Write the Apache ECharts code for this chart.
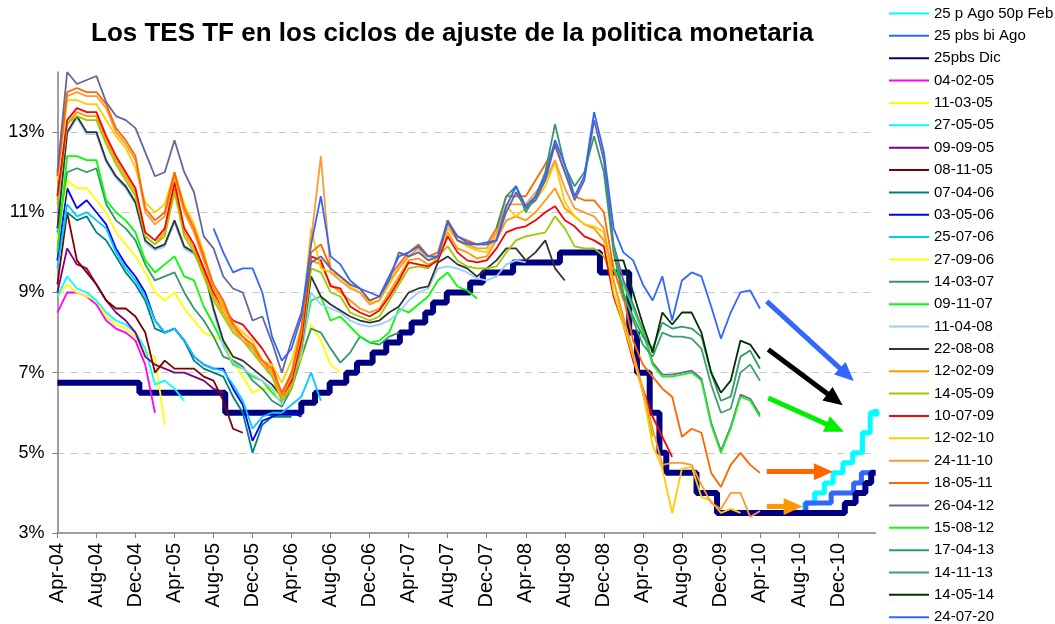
<!DOCTYPE html>
<html>
<head>
<meta charset="utf-8">
<script src="https://cdn.jsdelivr.net/npm/echarts@6/dist/echarts.min.js"></script>
<style>
  html, body { margin: 0; padding: 0; background: #fff; }
  #chart { width: 1055px; height: 624px; }
</style>
</head>
<body>
<div id="chart"></div>
<script>
// x position = months counted from Apr-04 (0 = Apr-04)
const tickLabels = ['Apr-04', 'Aug-04', 'Dec-04', 'Apr-05', 'Aug-05', 'Dec-05', 'Apr-06', 'Aug-06',
  'Dec-06', 'Apr-07', 'Aug-07', 'Dec-07', 'Apr-08', 'Aug-08', 'Dec-08', 'Apr-09', 'Aug-09',
  'Dec-09', 'Apr-10', 'Aug-10', 'Dec-10'];

// policy rate, with the three paths after Aug-10 (month of change, rate)
const dicMonths = [0, 8.4, 17.2, 25.0, 26.4, 27.9, 29.6, 30.7, 32.3, 33.7, 35.1, 36.3, 37.7, 38.5, 39.9,
  42.3, 43.6, 46.7, 51.5, 55.6, 58.6, 59.4, 60.7, 61.7, 62.4, 65.5, 67.6, 80.7, 81.8, 82.8, 83.4, 83.84];
const dicRates = [6.75, 6.5, 6.0, 6.25, 6.5, 6.75, 7.0, 7.25, 7.5, 7.75, 8.0, 8.25, 8.5, 8.75, 9.0,
  9.25, 9.5, 9.75, 10.0, 9.5, 8.0, 7.0, 6.0, 5.0, 4.5, 4.0, 3.5, 3.75, 4.0, 4.25, 4.5, 4.5];
const biAgoMonths = [76.0, 76.7, 79.3, 81.6, 82.4, 83.84];
const biAgoRates = [3.5, 3.75, 4.0, 4.25, 4.5, 4.5];
const agoFebMonths = [76.0, 76.6, 77.6, 78.6, 79.5, 80.5, 81.5, 82.5, 83.3, 83.84];
const agoFebRates = [3.5, 3.75, 4.0, 4.25, 4.5, 4.75, 5.0, 5.5, 6.0, 6.0];

// TES TF yields by month (%), first value at the month given in bondStart
const tes040205 = [8.5, 9.0, 9.0, 8.9, 8.7, 8.3, 8.1, 8.0, 7.8, 7.2, 6.0];
const tes110305 = [8.9, 9.2, 9.0, 8.9, 8.8, 8.4, 8.2, 8.1, 7.9, 7.5, 7.4, 5.7];
const tes270505 = [8.9, 9.4, 9.1, 9.0, 8.8, 8.5, 8.3, 8.2, 8.0, 7.6, 6.7, 6.8, 6.6, 6.3];
const tes090905 = [9.0, 10.1, 9.7, 9.6, 9.2, 8.8, 8.5, 8.3, 8.0, 7.4, 7.2, 7.1, 7.0, 7.0, 6.9, 6.8, 6.6, 6.5];
const tes081105 = [9.2, 11.0, 9.8, 9.5, 9.2, 8.8, 8.6, 8.6, 8.4, 8.0, 7.0, 7.3, 7.1, 7.1, 7.1, 6.9, 6.8, 6.3, 5.6, 5.5];
const tes070406 = [9.8, 11.0, 10.8, 10.9, 10.5, 10.3, 9.9, 9.5, 9.2, 8.8, 8.1, 8.0, 8.1, 7.8, 7.3, 7.1, 7.0, 6.9,
  6.4, 6.0, 5.0, 5.7, 5.9, 5.9, 5.9];
const tes030506 = [9.8, 11.6, 11.1, 11.3, 11.0, 10.7, 10.1, 9.7, 9.4, 9.0, 8.3, 8.0, 8.1, 7.8, 7.4, 7.2, 7.1, 7.1,
  6.6, 6.2, 5.3, 5.8, 5.9, 6.0, 6.0, 5.9];
const tes250706 = [9.6, 11.2, 10.9, 11.0, 10.8, 10.6, 10.0, 9.6, 9.3, 8.9, 8.3, 8.0, 8.1, 7.8, 7.4, 7.2, 7.1, 7.05,
  6.7, 6.3, 5.6, 5.9, 6.0, 6.0, 6.2, 6.4, 7.0, 6.3];
const tes270906 = [10.3, 11.8, 11.6, 11.6, 11.3, 11.0, 10.5, 10.2, 9.9, 9.5, 9.0, 8.8, 9.0, 8.6, 8.3, 8.0, 7.9, 7.8,
  7.3, 6.9, 6.5, 6.6, 6.6, 6.4, 6.8, 7.3, 8.2, 7.8, 7.2, 7.0];
const tes140307 = [10.5, 12.0, 12.1, 12.0, 12.1, 11.2, 10.8, 10.6, 10.3, 9.7, 9.3, 9.4, 9.5, 9.0, 8.6, 8.3, 7.9, 7.4,
  7.3, 7.15, 6.8, 6.6, 6.3, 6.15, 6.6, 7.4, 8.1, 8.0, 7.6, 7.25, 7.5, 7.9, 7.75, 7.7, 7.9, 8.0];
const tes091107 = [10.0, 12.4, 12.4, 12.3, 12.3, 11.3, 11.0, 10.8, 10.5, 9.8, 9.5, 9.7, 9.9, 9.4, 9.3, 8.65, 8.2, 7.7,
  7.2, 7.1, 6.9, 6.8, 6.5, 6.25, 6.7, 7.6, 8.8, 8.9, 8.3, 8.4, 8.15, 7.9, 7.75, 7.8, 8.0, 8.6, 8.5, 8.7,
  8.9, 9.3, 9.5, 9.15, 9.05, 8.85];
const tes110408 = [10.55, 12.95, 13.35, 12.95, 12.95, 12.25, 11.85, 11.6, 11.2, 10.25, 10.05, 10.15, 10.75, 10.1,
  9.95, 9.55, 8.55, 7.65, 7.25, 7.1, 6.95, 6.8, 6.6, 6.2, 6.8, 7.4, 9.0, 8.7, 8.6, 8.5, 8.3, 8.2, 8.15, 8.2,
  8.3, 8.5, 8.8, 9.0, 9.1, 9.6, 9.65, 9.6, 9.5, 9.35, 9.3, 9.4, 9.7, 9.8, 9.75];
const tes220808 = [10.6, 13.0, 13.4, 13.0, 13.0, 12.3, 11.9, 11.65, 11.25, 10.3, 10.1, 10.2, 10.8, 10.15, 10.0, 9.6,
  8.6, 7.8, 7.4, 7.3, 7.1, 6.9, 6.7, 6.4, 7.0, 7.6, 9.4, 8.9, 8.7, 8.55, 8.4, 8.3, 8.25, 8.3, 8.5, 8.65,
  9.0, 9.1, 9.15, 9.75, 9.9, 9.7, 9.6, 9.4, 9.6, 9.8, 10.1, 10.1, 9.8, 10.0, 10.3, 9.6, 9.3];
const tes120209 = [11.3, 13.2, 13.5, 13.4, 13.4, 12.8, 12.3, 11.9, 11.5, 10.4, 10.2, 10.5, 11.6, 10.5, 10.1, 9.5, 8.9,
  8.5, 8.1, 7.9, 7.6, 7.3, 7.0, 6.3, 6.7, 7.8, 9.8, 9.7, 9.2, 9.0, 8.8, 8.6, 8.5, 8.6, 9.0, 9.4, 9.8, 9.85,
  9.7, 9.8, 10.5, 10.1, 10.0, 9.85, 9.9, 10.3, 10.8, 10.9, 10.8, 11.0, 11.3, 11.6, 11.1, 10.9, 10.7, 10.6,
  10.3, 9.6, 8.8];
const tes140509 = [11.2, 13.2, 13.4, 13.3, 13.3, 12.7, 12.2, 11.8, 11.4, 10.4, 10.2, 10.4, 11.5, 10.4, 10.0, 9.4, 8.8,
  8.4, 8.0, 7.8, 7.5, 7.2, 6.9, 6.3, 6.6, 7.6, 9.6, 9.5, 9.0, 8.9, 8.5, 8.4, 8.3, 8.4, 8.8, 9.2, 9.6, 9.65,
  9.6, 9.9, 10.15, 9.8, 9.65, 9.6, 9.6, 9.65, 10.0, 10.3, 10.4, 10.45, 10.5, 10.9, 10.6, 10.15, 10.1, 10.1,
  9.9, 9.3, 8.3, 7.4, 6.5, 5.4];
const tes100709 = [11.4, 13.3, 13.6, 13.5, 13.5, 12.9, 12.4, 12.0, 11.6, 10.5, 10.3, 10.6, 11.75, 10.6, 10.2, 9.6,
  9.0, 8.6, 8.3, 8.2, 7.9, 7.6, 7.2, 6.4, 6.8, 7.8, 9.9, 9.8, 9.15, 9.1, 8.65, 8.5, 8.4, 8.55, 8.9, 9.3,
  9.75, 9.7, 9.65, 9.8, 10.4, 10.0, 9.8, 9.75, 9.8, 10.1, 10.5, 10.6, 10.65, 10.8, 11.0, 11.15, 10.8, 10.65,
  10.4, 10.3, 10.15, 8.9, 8.2, 7.3, 6.6, 5.9, 5.4, 4.9];
const tes120210 = [11.8, 13.8, 13.8, 13.7, 13.7, 13.3, 12.9, 12.6, 12.1, 11.25, 11.0, 11.2, 12.0, 11.2, 10.7, 10.0,
  9.1, 8.6, 8.25, 8.0, 7.8, 7.3, 7.2, 6.75, 7.3, 8.15, 10.6, 9.6, 9.5, 9.4, 9.15, 9.0, 8.75, 8.8, 9.2, 9.6,
  9.9, 10.1, 9.8, 9.9, 10.6, 10.3, 10.15, 10.05, 10.0, 10.4, 11.15, 10.9, 11.1, 11.3, 11.65, 12.25, 11.25,
  10.9, 10.7, 10.65, 10.5, 9.0, 8.2, 7.4, 6.5, 5.2, 4.6, 3.5, 4.6, 4.65, 3.9, 3.8, 3.5, 3.6, 3.5];
const tes241110 = [11.9, 13.9, 14.0, 13.9, 13.9, 13.6, 13.0, 12.7, 12.3, 11.0, 10.7, 10.9, 11.9, 11.0, 10.5, 9.8, 9.1,
  8.7, 8.1, 7.8, 7.6, 7.2, 7.0, 6.4, 6.9, 8.0, 10.3, 12.4, 9.5, 9.3, 9.1, 9.0, 8.7, 8.8, 9.3, 9.6, 9.9,
  10.1, 9.8, 9.9, 10.7, 10.3, 10.2, 10.1, 10.1, 10.5, 11.2, 11.2, 11.2, 11.5, 11.8, 12.3, 11.6, 11.1, 11.0,
  10.9, 10.6, 9.3, 8.4, 7.5, 6.6, 5.6, 4.7, 4.75, 4.75, 4.7, 4.2, 3.75, 3.6, 4.0, 4.0, 3.4, 3.55];
const tes180511 = [11.9, 14.0, 14.1, 14.0, 14.0, 13.7, 13.1, 12.8, 12.4, 11.1, 10.8, 11.0, 12.0, 11.1, 10.6, 9.9, 9.2,
  8.8, 8.2, 7.9, 7.7, 7.3, 7.1, 6.5, 7.0, 8.1, 10.0, 10.2, 9.6, 9.4, 9.2, 9.1, 8.8, 8.9, 9.4, 9.7, 10.0,
  10.2, 9.9, 10.0, 10.8, 10.4, 10.3, 10.2, 10.2, 10.6, 11.4, 11.4, 11.4, 11.8, 12.2, 12.65, 12.0, 11.4, 11.3,
  11.3, 11.0, 9.6, 8.9, 7.8, 7.2, 6.9, 6.6, 6.4, 5.4, 5.6, 5.5, 4.5, 4.15, 4.7, 5.0, 4.7, 4.5];
const tes260412 = [12.0, 14.5, 14.2, 14.3, 14.4, 13.75, 13.4, 13.3, 13.1, 12.5, 11.9, 12.0, 12.8, 12.0, 11.5, 10.4,
  10.1, 9.4, 9.1, 9.0, 8.3, 8.4, 7.75, 7.0, 7.8, 8.5, 9.75, 9.9, 9.6, 9.4, 9.2, 9.1, 8.8, 8.9, 9.3, 10.0,
  9.9, 10.0, 9.8, 9.9, 10.8, 10.3, 10.2, 10.2, 10.2, 10.3, 11.0, 11.5, 11.1, 11.3, 11.8, 12.7, 12.0, 11.3,
  11.8, 13.3, 12.3, 10.2, 9.3, 8.7, 8.05, 7.25, 6.95, 6.95, 7.0, 7.05, 6.85, 5.75, 5.05, 5.65, 6.45, 6.35, 5.95];
const tes150812 = [9.6, 9.2, 8.6, 8.0, 7.2, 6.9, 6.9, 6.95, 7.0, 6.8, 5.7, 5.0, 5.6, 6.4, 6.3, 5.9];
const tes170413 = [10.6, 11.4, 11.65, 11.0, 11.4, 12.0, 13.2, 12.15, 11.65, 12.0, 12.9, 12.0, 10.0, 8.9, 8.4, 7.9,
  7.6, 8.25, 8.1, 8.15, 8.1, 7.9, 7.0, 6.3, 6.4, 7.4, 7.55, 7.1];
const tes141113 = [10.2, 9.0, 8.3, 7.7, 7.4, 8.0, 7.9, 7.9, 7.85, 7.6, 6.7, 6.0, 6.1, 7.0, 7.2, 6.8];
const tes140514 = [9.8, 9.8, 9.0, 8.2, 7.5, 8.5, 8.2, 8.5, 8.5, 8.0, 7.0, 6.5, 6.8, 7.8, 7.7, 7.35];
const tes240720 = [10.6, 10.0, 9.5, 9.6, 9.6, 9.0, 7.9, 7.3, 7.6, 8.4, 10.2, 11.4, 9.9, 9.7, 9.3, 9.1, 9.0, 8.9, 9.4,
  9.9, 10.0, 10.15, 9.9, 9.9, 10.75, 10.4, 10.25, 10.2, 10.25, 10.3, 11.15, 11.65, 11.15, 11.4, 11.9, 12.8,
  12.2, 11.4, 11.9, 13.5, 12.5, 10.6, 10.0, 9.8, 9.2, 8.8, 9.4, 8.3, 9.3, 9.5, 9.4, 8.65, 7.85, 8.5, 9.0,
  9.05, 8.6];

const bondNames = ['04-02-05', '11-03-05', '27-05-05', '09-09-05', '08-11-05', '07-04-06', '03-05-06', '25-07-06',
  '27-09-06', '14-03-07', '09-11-07', '11-04-08', '22-08-08', '12-02-09', '14-05-09', '10-07-09', '12-02-10',
  '24-11-10', '18-05-11', '26-04-12', '15-08-12', '17-04-13', '14-11-13', '14-05-14', '24-07-20'];
const bondStart = [0, 0, 0, 0, 0, 0, 0, 0, 0, 0, 0, 0, 0, 0, 0, 0, 0, 0, 0, 0, 57, 45, 57, 57, 16];
const bondValues = [tes040205, tes110305, tes270505, tes090905, tes081105, tes070406, tes030506, tes250706,
  tes270906, tes140307, tes091107, tes110408, tes220808, tes120209, tes140509, tes100709, tes120210,
  tes241110, tes180511, tes260412, tes150812, tes170413, tes141113, tes140514, tes240720];

// annotation arrows, in (month, %) coordinates
const arrowFrom = [[72.7, 8.78], [72.85, 7.58], [72.85, 6.37], [72.7, 4.53], [72.7, 3.66]];
const arrowTo = [[80.9, 6.95], [79.7, 6.33], [79.7, 5.62], [78.5, 4.53], [75.4, 3.66]];

// styles
const bondColors = ['#FF00FF', '#FFFF00', '#00FFFF', '#800080', '#800000', '#008080', '#0000FF', '#00CCFF',
  '#FFFF00', '#339966', '#00FF00', '#99CCFF', '#333333', '#FF9900', '#99CC00', '#FF0000', '#FFCC00',
  '#FF9933', '#FF6600', '#666699', '#22EE22', '#339966', '#3F9F6F', '#003300', '#3366FF'];
const arrowColors = ['#3366FF', '#000000', '#00EE00', '#FF6600', '#FF9900'];
const font = 'Liberation Sans, Arial, Helvetica, sans-serif';

let chart = echarts.init(document.getElementById('chart'), null, {renderer: 'canvas'});

function stepSeries(name, months, rates, color, width) {
  return {
    name: name,
    type: 'line',
    step: 'end',
    symbol: 'none',
    data: months.map((m, i) => [m, rates[i]]),
    lineStyle: {color: color, width: width},
    itemStyle: {color: color},
    z: 2
  };
}

let series = [];
let agoFeb = stepSeries('25 p Ago 50p Feb', agoFebMonths, agoFebRates, '#00FFFF', 5);
agoFeb.markPoint = {
  silent: true, symbol: 'circle', symbolSize: 8, label: {show: false},
  itemStyle: {color: '#00FFFF'},
  data: [{coord: [agoFebMonths[agoFebMonths.length - 1], agoFebRates[agoFebRates.length - 1]]}]
};
series.push(agoFeb);
series.push(stepSeries('25 pbs bi Ago', biAgoMonths, biAgoRates, '#3366FF', 5));
let dic = stepSeries('25pbs Dic', dicMonths, dicRates, '#000080', 6);
dic.markLine = {
  silent: true,
  symbol: ['none', 'triangle'],
  symbolSize: [17, 19],
  label: {show: false},
  data: arrowFrom.map((p, i) => [
    {coord: p, lineStyle: {color: arrowColors[i], width: 5, type: 'solid'}, itemStyle: {color: arrowColors[i]}},
    {coord: arrowTo[i]}
  ])
};
series.push(dic);

bondNames.forEach((name, k) => {
  series.push({
    name: name,
    type: 'line',
    symbol: 'none',
    data: bondValues[k].map((v, i) => [bondStart[k] + i, v]),
    lineStyle: {color: bondColors[k], width: 1.8},
    itemStyle: {color: bondColors[k]},
    z: 3
  });
});

chart.setOption({
  animation: false,
  backgroundColor: '#ffffff',
  title: {
    text: 'Los TES TF en los ciclos de ajuste de la politica monetaria',
    left: 86,
    top: 16,
    textStyle: {fontFamily: font, fontSize: 26, fontWeight: 'bold', color: '#000'}
  },
  legend: {
    orient: 'vertical',
    left: 888,
    top: 6,
    height: 640,
    padding: 0,
    itemWidth: 40,
    itemHeight: 14,
    itemGap: 7.36,
    selectedMode: false,
    itemStyle: {opacity: 0},
    textStyle: {fontFamily: font, fontSize: 15, color: '#000', lineHeight: 15},
    data: series.map(s => s.name)
  },
  grid: {left: 57.4, right: 179.5, top: 72, bottom: 91, containLabel: false},
  xAxis: {
    type: 'value',
    min: 0,
    max: 83.84,
    interval: 4,
    axisLine: {lineStyle: {color: '#808080', width: 1.5}},
    axisTick: {show: true, length: 5, lineStyle: {color: '#808080'}},
    axisLabel: {
      rotate: 90,
      margin: 10,
      fontFamily: font,
      fontSize: 20,
      color: '#000',
      showMaxLabel: false,
      formatter: v => tickLabels[Math.round(v / 4)] || ''
    },
    splitLine: {show: false}
  },
  yAxis: {
    type: 'value',
    min: 3,
    max: 14.5,
    interval: 2,
    axisLine: {show: true, lineStyle: {color: '#808080', width: 1.5}},
    axisTick: {show: true, length: 5, lineStyle: {color: '#808080'}},
    axisLabel: {
      margin: 13,
      fontFamily: font,
      fontSize: 18,
      color: '#000',
      showMaxLabel: false,
      formatter: v => v + '%'
    },
    splitLine: {
      show: true,
      showMinLine: false,
      showMaxLine: false,
      lineStyle: {color: '#C8C8C8', type: [7, 6], width: 1}
    }
  },
  series: series
});
</script>
</body>
</html>
